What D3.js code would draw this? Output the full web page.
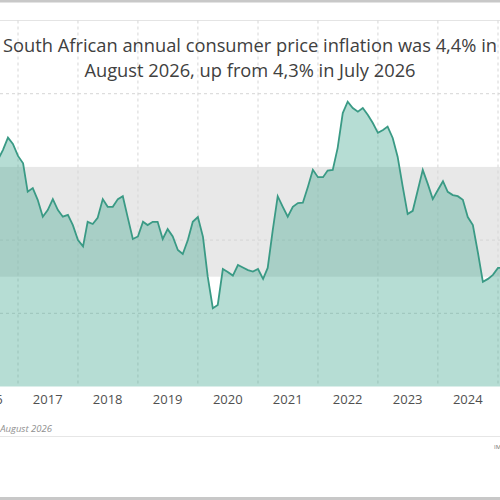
<!DOCTYPE html>
<html>
<head>
<meta charset="utf-8">
<script src="https://cdn.jsdelivr.net/npm/d3@7"></script>
<style>
  body { margin: 0; background: #fff; }
  svg { display: block; font-family: "Open Sans", "Noto Sans", sans-serif; }
</style>
</head>
<body>
<div id="chart"></div>
<script>
const width = 500,
      height = 500;

// monthly CPI, % y/y, starting Sep 2016
const startMonth = new Date(2016, 8, 1);
const cpi = [6.19, 6.46, 6.8, 6.63, 6.3, 6.1, 5.32, 5.42, 5.1, 4.64,
             4.82, 5.12, 4.82, 4.64, 4.69, 4.41, 4.0, 3.83, 4.5, 4.44,
             4.61, 5.12, 4.91, 4.91, 5.12, 5.2, 4.6, 4.03, 4.1, 4.5,
             4.41, 4.5, 4.5, 4.03, 4.3, 4.1, 3.73, 3.62, 4.0, 4.5,
             4.63, 4.09, 3.0, 2.14, 2.23, 3.21, 3.13, 3.03, 3.32, 3.25,
             3.18, 3.14, 3.21, 2.94, 3.24, 4.28, 5.2, 4.91, 4.64, 4.91,
             5.01, 5.02, 5.46, 5.92, 5.72, 5.72, 5.9, 5.92, 6.52, 7.47,
             7.78, 7.61, 7.51, 7.61, 7.42, 7.2, 6.93, 7.01, 7.1, 6.79,
             6.28, 5.46, 4.71, 4.8, 5.37, 5.92, 5.53, 5.12, 5.37, 5.61,
             5.32, 5.23, 5.2, 5.1, 4.63, 4.41, 3.65, 2.86, 2.94, 3.05,
             3.24, 3.24];
const years = [2016, 2017, 2018, 2019, 2020, 2021, 2022, 2023, 2024];
const yGrid = [2, 4, 8, 10];
const targetBand = [3, 6];
const titleLines = ["South African annual consumer price inflation was 4,4% in",
                    "August 2026, up from 4,3% in July 2026"];

const data = cpi.map((v, i) => ({ date: d3.timeMonth.offset(startMonth, i), value: v }));

const svg = d3.select("#chart").append("svg")
    .attr("width", width).attr("height", height);

let x = d3.scaleTime()
    .domain([new Date(2017, 0, 1), new Date(2025, 0, 1)])
    .range([18, 498]);

let y = d3.scaleLinear()
    .domain([0, 10])
    .range([386.5, 20.5]);

// frame lines
svg.append("line").attr("x1", 0).attr("x2", width).attr("y1", 1).attr("y2", 1)
    .attr("stroke", "#c8c8c8").attr("stroke-width", 3);
svg.append("line").attr("x1", 0).attr("x2", width).attr("y1", 498.5).attr("y2", 498.5)
    .attr("stroke", "#c8c8c8").attr("stroke-width", 3);
svg.append("line").attr("x1", 0).attr("x2", width).attr("y1", 436.5).attr("y2", 436.5)
    .attr("stroke", "#e6e6e6");

// target band
svg.append("rect")
    .attr("x", 0).attr("width", width)
    .attr("y", y(targetBand[1])).attr("height", y(targetBand[0]) - y(targetBand[1]))
    .attr("fill", "#e8e8e8");

// grid
svg.append("g").selectAll("line").data(yGrid).join("line")
    .attr("x1", 0).attr("x2", width)
    .attr("y1", d => y(d)).attr("y2", d => y(d))
    .attr("stroke", d => d === 10 ? "#e4e4e4" : "#d6d6d6")
    .attr("stroke-dasharray", d => d === 10 ? null : "3,3");
svg.append("g").selectAll("line").data(years.slice(1).concat([2025])).join("line")
    .attr("x1", d => x(new Date(d, 0, 1))).attr("x2", d => x(new Date(d, 0, 1)))
    .attr("y1", y(10)).attr("y2", y(0))
    .attr("stroke", "#d6d6d6").attr("stroke-dasharray", "3,3");

// area + line
svg.append("path").datum(data)
    .attr("d", d3.area().x(d => x(d.date)).y0(y(0)).y1(d => y(d.value)))
    .attr("fill", "#3fa58f").attr("fill-opacity", 0.38);
svg.append("path").datum(data)
    .attr("d", d3.line().x(d => x(d.date)).y(d => y(d.value)))
    .attr("fill", "none").attr("stroke", "#3a9a85").attr("stroke-width", 1.8);

// year labels, centred in each year
svg.append("g").selectAll("text").data(years).join("text")
    .attr("x", d => x(new Date(d, 6, 1)))
    .attr("y", 404)
    .attr("text-anchor", "middle")
    .attr("font-size", 13).attr("fill", "#505050")
    .text(d => d);

// title
svg.append("g").selectAll("text").data(titleLines).join("text")
    .attr("x", 250).attr("y", (d, i) => 52 + i * 25)
    .attr("text-anchor", "middle")
    .attr("font-size", 18.3).attr("fill", "#404040")
    .text(d => d);

// footnote
svg.append("text").attr("x", 52).attr("y", 432)
    .attr("text-anchor", "end").attr("font-size", 9.5)
    .attr("font-style", "italic").attr("fill", "#909090")
    .text("Source: Stats SA, August 2026");
svg.append("text").attr("x", 494).attr("y", 449)
    .attr("font-size", 6).attr("fill", "#707070")
    .text("IMF");
</script>
</body>
</html>
